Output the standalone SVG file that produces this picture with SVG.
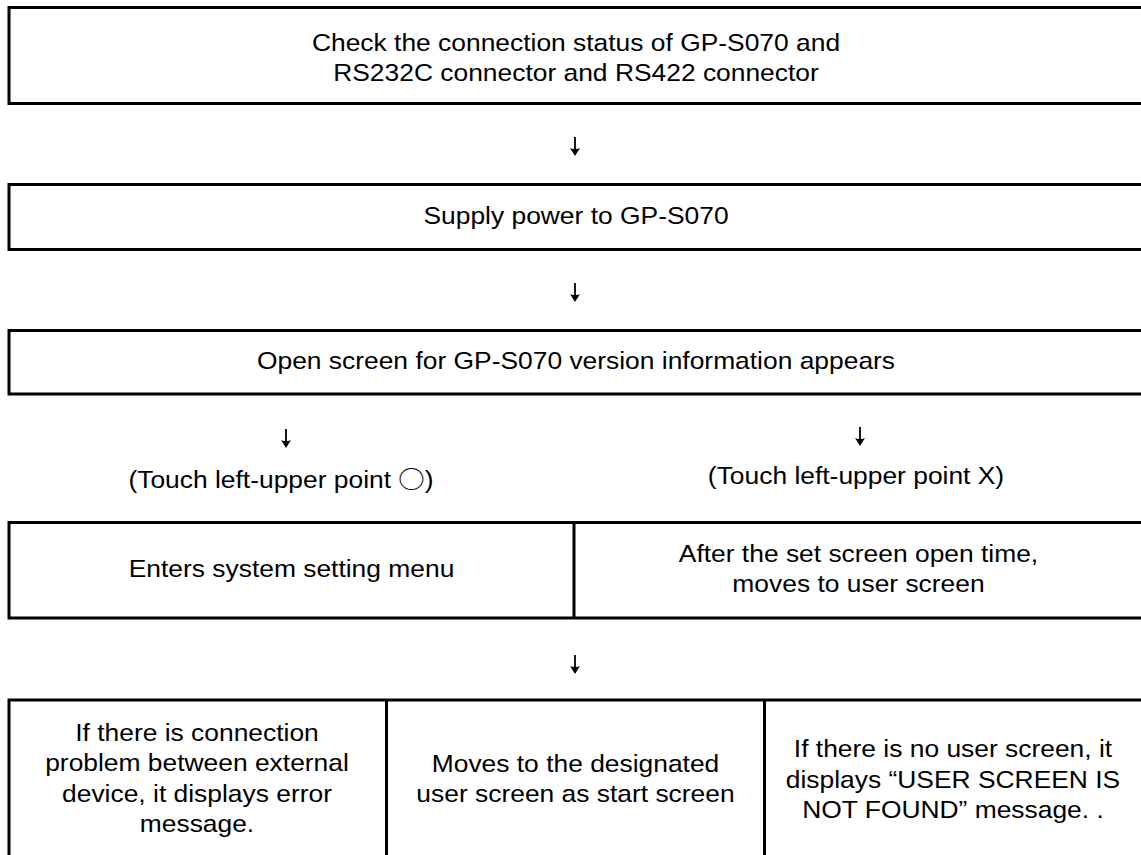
<svg xmlns="http://www.w3.org/2000/svg" width="1141" height="855" viewBox="0 0 1141 855">
<style>
.box{fill:#fff;stroke:#000;stroke-width:3}
.div{stroke:#000;stroke-width:3}
.t{font-family:"Liberation Sans",Arial,"Noto Sans CJK KR",sans-serif;font-size:24px;fill:#000;text-anchor:middle}
.cjk{font-family:"Noto Sans CJK KR","Noto Sans CJK JP",sans-serif}
</style>
<defs>
<g id="arrow">
<line x1="0" y1="0" x2="0" y2="13" stroke="#000" stroke-width="1.8"/>
<path d="M-5,11 Q-2,12.5 0,11.5 Q2,12.5 5,11 L0,19 Z" fill="#000"/>
</g>
</defs>
<rect width="1141" height="855" fill="#fff"/>
<g id="connectors">
<use href="#arrow" x="575" y="137"/>
<use href="#arrow" x="575" y="283"/>
<use href="#arrow" x="286" y="429"/>
<use href="#arrow" x="860" y="427"/>
<use href="#arrow" x="575" y="655"/>
</g>
<g id="node-check">
<rect class="box" x="9" y="7.5" width="1134" height="96"/>
<text class="t" transform="matrix(1.1 0 0 1 576 0)" x="0" y="51">Check the connection status of GP-S070 and</text>
<text class="t" transform="matrix(1.1 0 0 1 576 0)" x="0" y="81.5">RS232C connector and RS422 connector</text>
</g>
<g id="node-power">
<rect class="box" x="9" y="184.5" width="1134" height="65"/>
<text class="t" transform="matrix(1.1 0 0 1 576 0)" x="0" y="224">Supply power to GP-S070</text>
</g>
<g id="node-open">
<rect class="box" x="9" y="330.5" width="1134" height="63.5"/>
<text class="t" transform="matrix(1.1 0 0 1 576 0)" x="0" y="369">Open screen for GP-S070 version information appears</text>
</g>
<g id="label-left">
<text class="t" transform="matrix(1.1 0 0 1 281 0)" x="0" y="488">(Touch left-upper point  <tspan class="cjk">○</tspan>)</text>
</g>
<g id="label-right">
<text class="t" transform="matrix(1.1 0 0 1 856 0)" x="0" y="484">(Touch left-upper point X)</text>
</g>
<g id="node-menu">
<rect class="box" x="9" y="522.5" width="1134" height="95.5"/>
<line class="div" x1="574" y1="522.5" x2="574" y2="618"/>
<text class="t" transform="matrix(1.1 0 0 1 291.5 0)" x="0" y="577">Enters system setting menu</text>
</g>
<g id="node-user">
<text class="t" transform="matrix(1.1 0 0 1 858.5 0)" x="0" y="562">After the set screen open time,</text>
<text class="t" transform="matrix(1.1 0 0 1 858.5 0)" x="0" y="592">moves to user screen</text>
</g>
<g id="node-results">
<rect class="box" x="9" y="700" width="1134" height="170"/>
<line class="div" x1="386.5" y1="700" x2="386.5" y2="870"/>
<line class="div" x1="764.5" y1="700" x2="764.5" y2="870"/>
</g>
<g id="node-error">
<text class="t" transform="matrix(1.1 0 0 1 197 0)" x="0" y="741">If there is connection</text>
<text class="t" transform="matrix(1.1 0 0 1 197 0)" x="0" y="771">problem between external</text>
<text class="t" transform="matrix(1.1 0 0 1 197 0)" x="0" y="802">device, it displays error</text>
<text class="t" transform="matrix(1.1 0 0 1 197 0)" x="0" y="832">message.</text>
</g>
<g id="node-start">
<text class="t" transform="matrix(1.1 0 0 1 575.5 0)" x="0" y="772">Moves to the designated</text>
<text class="t" transform="matrix(1.1 0 0 1 575.5 0)" x="0" y="802.5">user screen as start screen</text>
</g>
<g id="node-notfound">
<text class="t" transform="matrix(1.1 0 0 1 953 0)" x="0" y="757">If there is no user screen, it</text>
<text class="t" transform="matrix(1.1 0 0 1 953 0)" x="0" y="788">displays “USER SCREEN IS</text>
<text class="t" transform="matrix(1.1 0 0 1 953 0)" x="0" y="818.5">NOT FOUND” message. .</text>
</g>
</svg>
